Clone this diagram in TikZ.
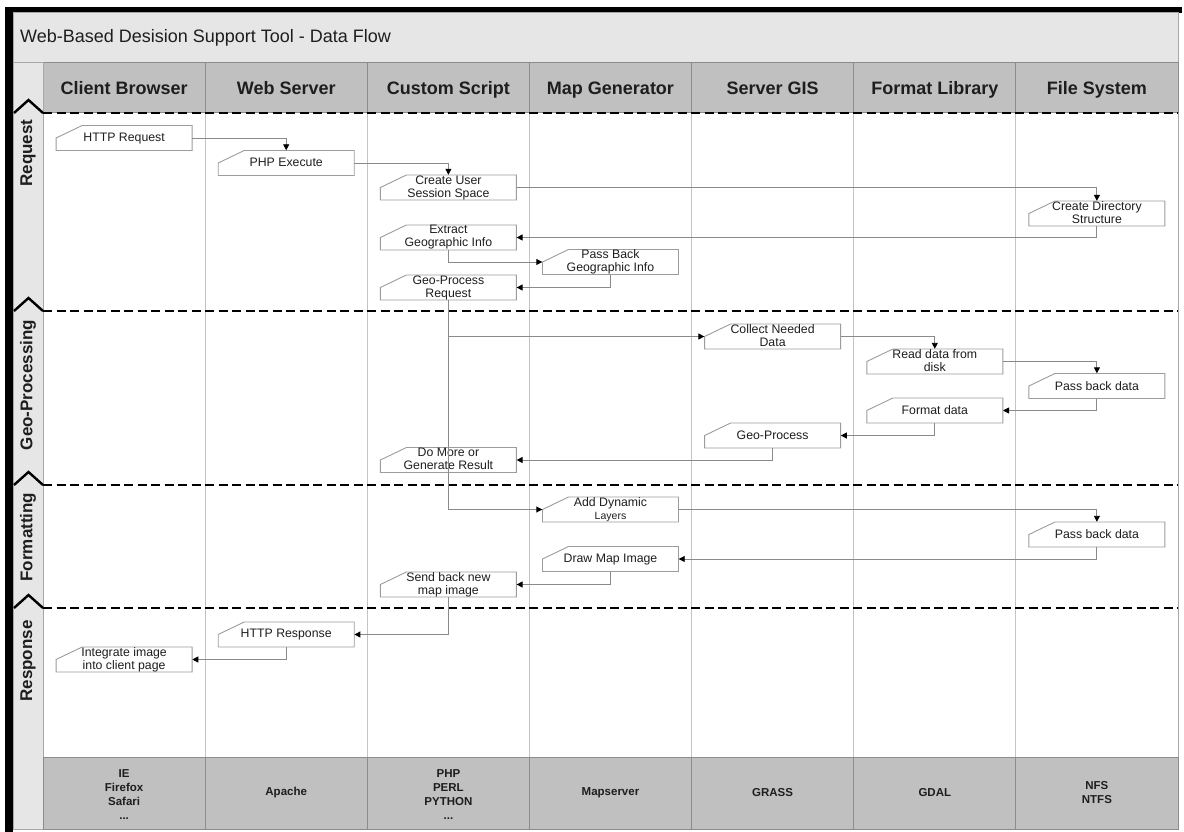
\documentclass[tikz,border=0pt]{standalone}
\usepackage{fontspec}
\setmainfont{Liberation Sans}
\usetikzlibrary{arrows.meta}
\pgfdeclarelayer{back}
\pgfdeclarelayer{boxes}
\pgfsetlayers{back,boxes,main}
\definecolor{lite}{HTML}{E6E6E6}
\definecolor{hdr}{HTML}{C0C0C0}
\definecolor{sepc}{HTML}{8C8C8C}
\definecolor{colc}{HTML}{C4C4C4}
\definecolor{edgec}{HTML}{A8A8A8}
\definecolor{boxc}{HTML}{9C9C9C}
\definecolor{connc}{HTML}{8A8A8A}
\definecolor{txtc}{HTML}{1E1E1E}
\newcommand\mytopstrut{\rule{0pt}{9.5pt}}
\newcommand\mybotstrut{\rule[-1.5pt]{0pt}{1.5pt}}
\begin{document}
\begin{tikzpicture}[x=1pt,y=-1pt,
  mbox/.style={minimum width=136pt, minimum height=25pt, inner sep=0pt, align=center,
    text=txtc, font=\fontsize{12.3}{13}\selectfont,
    execute at begin node=\mytopstrut, execute at end node=\mybotstrut},
  boxshape/.style={fill=white, draw=boxc, line width=0.9pt},
  conn/.style={draw=connc, line width=0.9pt, -{Triangle[length=6pt,width=6pt,color=black]}},
  lanediv/.style={draw=black, line width=2.6pt, dash pattern=on 9pt off 4.5pt},
  chev/.style={draw=black, line width=2.4pt, line join=miter},
  hdrtext/.style={anchor=base, inner sep=0pt, text=txtc, font=\fontsize{18}{20}\selectfont\bfseries},
  lanetext/.style={text=txtc, font=\fontsize{17}{20}\selectfont\bfseries, rotate=90},
  foottext/.style={text=txtc, font=\fontsize{11.5}{14}\selectfont\bfseries, align=center}]
\useasboundingbox (0,0) rectangle (1184,832);

% ---------- background frame and swimlanes ----------
\begin{pgfonlayer}{back}
\fill[white] (0,0) rectangle (1184,832);
\fill[black] (5,7) rectangle (12.5,832);
\fill[black] (5,7) rectangle (1182,13);
\filldraw[fill=white, draw=edgec, line width=1pt] (13,13) rectangle (1178,829);
\filldraw[fill=lite, draw=edgec, line width=1pt] (13,13) rectangle (1178,63);
\filldraw[fill=hdr, draw=sepc, line width=1pt] (43,63) rectangle (1178,113);
\filldraw[fill=lite, draw=edgec, line width=1pt] (13,63) rectangle (43,829);
\filldraw[fill=hdr, draw=sepc, line width=1pt] (43,757) rectangle (1178,829);
\foreach \x in {205.1,367.3,529.4,691.6,853.7,1015.9} {
  \draw[sepc, line width=1pt] (\x,63) -- (\x,113);
  \draw[colc, line width=1pt] (\x,113) -- (\x,757);
  \draw[sepc, line width=1pt] (\x,757) -- (\x,829);
}
\foreach \y in {113,311,485,608} {
  \draw[lanediv] (43,\y) -- (1178,\y);
  \draw[chev] (14,\y) -- (28.5,\y-13) -- (43,\y);
}
\end{pgfonlayer}

% ---------- title, headers, lane labels, footers ----------
\node[anchor=west, inner sep=0pt, text=txtc, font=\fontsize{18}{20}\selectfont] (title) at (20,38) {Web-Based Desision Support Tool - Data Flow};

\node[hdrtext] (h0) at (124.1,94.5) {Client Browser};
\node[hdrtext] (h1) at (286.2,94.5) {Web Server};
\node[hdrtext] (h2) at (448.4,94.5) {Custom Script};
\node[hdrtext] (h3) at (610.5,94.5) {Map Generator};
\node[hdrtext] (h4) at (772.6,94.5) {Server GIS};
\node[hdrtext] (h5) at (934.8,94.5) {Format Library};
\node[hdrtext] (h6) at (1096.9,94.5) {File System};

\node[lanetext] (l1) at (28,153) {Request};
\node[lanetext] (l2) at (28,385) {Geo-Processing};
\node[lanetext] (l3) at (28,537) {Formatting};
\node[lanetext] (l4) at (28,661) {Response};

\node[foottext] (f0) at (124.1,795) {IE\\Firefox\\Safari\\...};
\node[foottext] (f1) at (286.2,793) {Apache};
\node[foottext] (f2) at (448.4,795) {PHP\\PERL\\PYTHON\\...};
\node[foottext] (f3) at (610.5,793) {Mapserver};
\node[foottext] (f4) at (772.6,793) {GRASS};
\node[foottext] (f5) at (934.8,793) {GDAL};
\node[foottext] (f6) at (1096.9,793) {NFS\\NTFS};

% ---------- process boxes ----------
\node[mbox] (hreq)   at (124.1,138)   {HTTP Request};
\node[mbox] (php)    at (286.2,163)   {PHP Execute};
\node[mbox] (cusr)   at (448.4,187.5) {Create User\\Session Space};
\node[mbox] (cdir)   at (1096.9,213.5){Create Directory\\Structure};
\node[mbox] (extr)   at (448.4,237.5) {Extract\\Geographic Info};
\node[mbox] (pbgi)   at (610.5,262)   {Pass Back\\Geographic Info};
\node[mbox] (gpr)    at (448.4,287.5) {Geo-Process\\Request};
\node[mbox] (coll)   at (772.6,336.5) {Collect Needed\\Data};
\node[mbox] (read)   at (934.8,361.5) {Read data from\\disk};
\node[mbox] (pbd1)   at (1096.9,386)  {Pass back data};
\node[mbox] (fmt)    at (934.8,410.5) {Format data};
\node[mbox] (gp)     at (772.6,435.5) {Geo-Process};
\node[mbox] (domore) at (448.4,460)   {Do More or\\Generate Result};
\node[mbox] (adl)    at (610.5,509.5) {Add Dynamic\\{\fontsize{10.5}{12}\selectfont Layers}};
\node[mbox] (pbd2)   at (1096.9,534.5){Pass back data};
\node[mbox] (dmi)    at (610.5,559)   {Draw Map Image};
\node[mbox] (sbn)    at (448.4,584.5) {Send back new\\map image};
\node[mbox] (hresp)  at (286.2,634.5) {HTTP Response};
\node[mbox] (integ)  at (124.1,659.5) {Integrate image\\into client page};

\begin{pgfonlayer}{boxes}
\foreach \n in {hreq,php,cusr,cdir,extr,pbgi,gpr,coll,read,pbd1,fmt,gp,domore,adl,pbd2,dmi,sbn,hresp,integ}
  \filldraw[boxshape, shift={(\n.center)}] (-68,12.5) -- (-68,0) -- (-42,-12.5) -- (68,-12.5) -- (68,12.5) -- cycle;
\end{pgfonlayer}

% ---------- connectors ----------
\draw[conn] (hreq.east) -| (php.north);
\draw[conn] (php.east) -| (cusr.north);
\draw[conn] (cusr.east) -| (cdir.north);
\draw[conn] (cdir.south) |- (extr.east);
\draw[conn] (extr.south) |- (pbgi.west);
\draw[conn] (pbgi.south) |- (gpr.east);
\draw[conn] (gpr.south) |- (coll.west);
\draw[conn] (gpr.south) |- (adl.west);
\draw[conn] (coll.east) -| (read.north);
\draw[conn] (read.east) -| (pbd1.north);
\draw[conn] (pbd1.south) |- (fmt.east);
\draw[conn] (fmt.south) |- (gp.east);
\draw[conn] (gp.south) |- (domore.east);
\draw[conn] (adl.east) -| (pbd2.north);
\draw[conn] (pbd2.south) |- (dmi.east);
\draw[conn] (dmi.south) |- (sbn.east);
\draw[conn] (sbn.south) |- (hresp.east);
\draw[conn] (hresp.south) |- (integ.east);
\end{tikzpicture}
\end{document}
